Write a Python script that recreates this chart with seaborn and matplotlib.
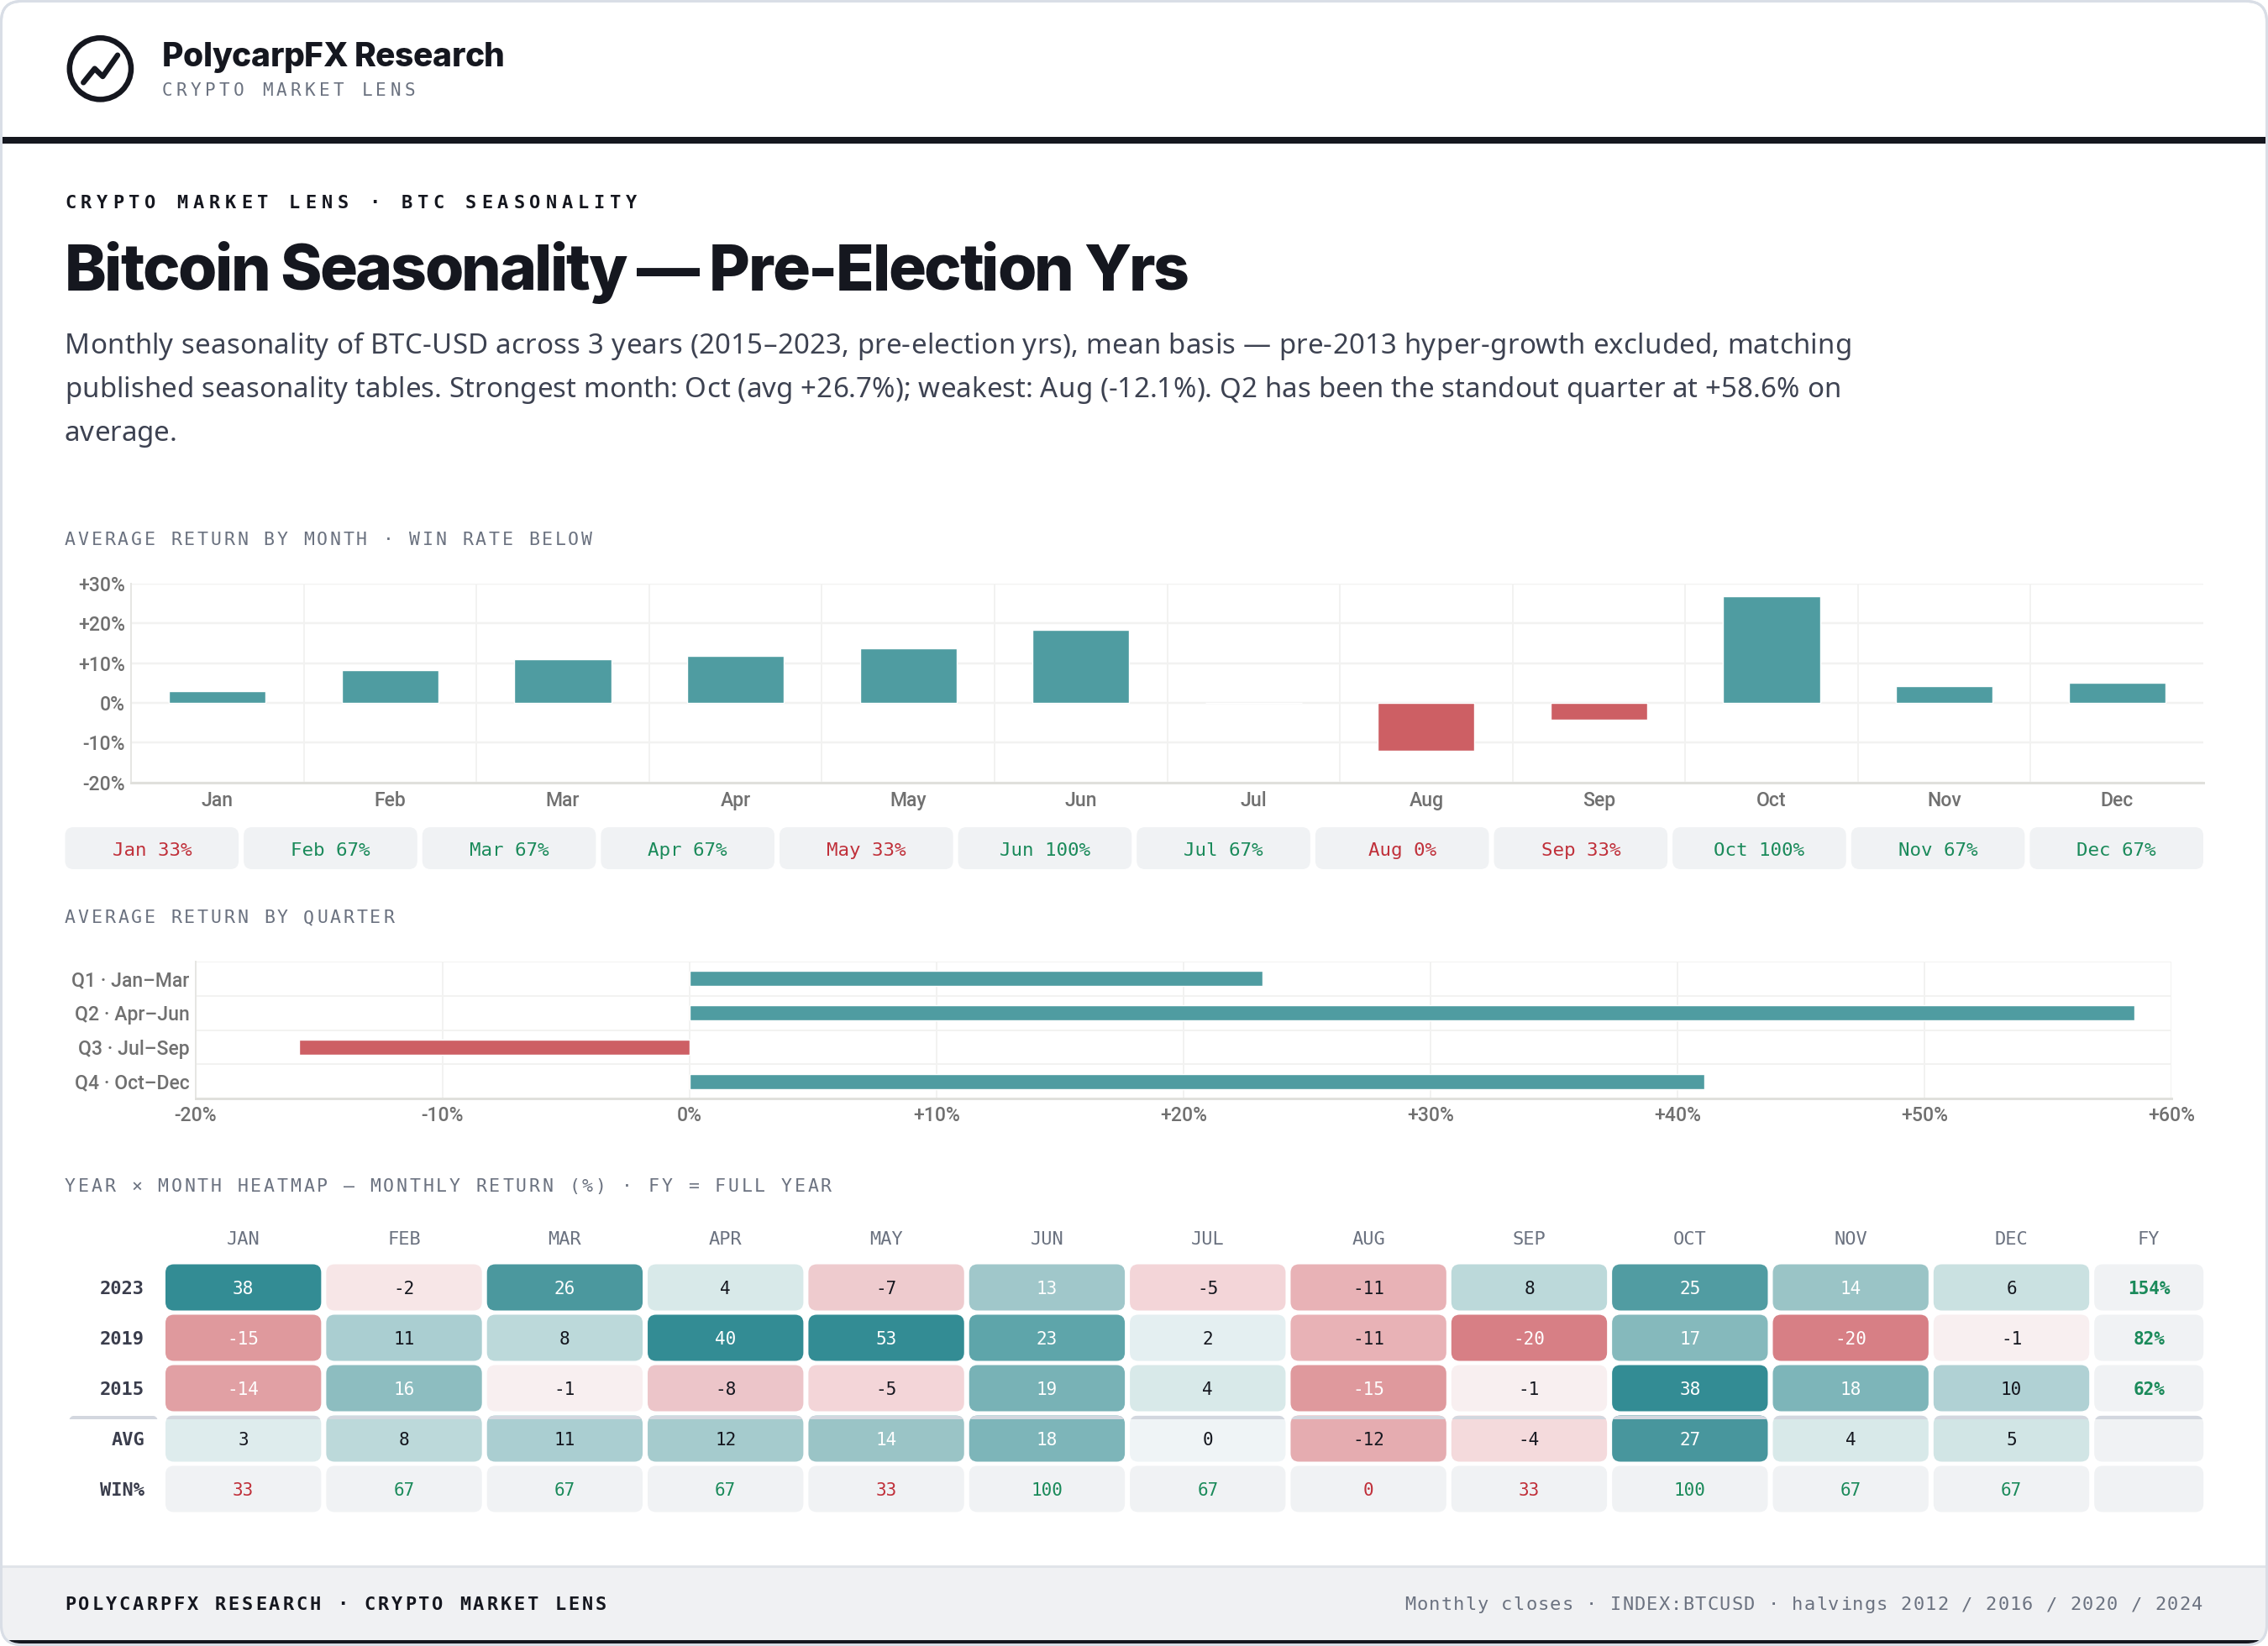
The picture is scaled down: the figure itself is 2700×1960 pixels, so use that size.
import numpy as np
import pandas as pd
import matplotlib
matplotlib.use("Agg")
import matplotlib.pyplot as plt
import matplotlib.text as mtext
from matplotlib.colors import LinearSegmentedColormap
from matplotlib.font_manager import FontProperties
from matplotlib.patches import FancyBboxPatch, Rectangle, Circle
from matplotlib.transforms import IdentityTransform, Bbox
import seaborn as sns

# ---------- data ----------
months = ["Jan", "Feb", "Mar", "Apr", "May", "Jun", "Jul", "Aug", "Sep", "Oct", "Nov", "Dec"]
avg_return = [2.9, 8.2, 11.0, 11.9, 13.7, 18.4, 0.0, -12.1, -4.3, 26.9, 4.2, 5.0]
win_rate = [33, 67, 67, 67, 33, 100, 67, 0, 33, 100, 67, 67]
quarters = ["Q1 · Jan–Mar", "Q2 · Apr–Jun", "Q3 · Jul–Sep", "Q4 · Oct–Dec"]
quarter_return = [23.2, 58.5, -15.8, 41.1]
row_2023 = [38, -2, 26, 4, -7, 13, -5, -11, 8, 25, 14, 6]
row_2019 = [-15, 11, 8, 40, 53, 23, 2, -11, -20, 17, -20, -1]
row_2015 = [-14, 16, -1, -8, -5, 19, 4, -15, -1, 38, 18, 10]
row_avg = [3, 8, 11, 12, 14, 18, 0, -12, -4, 27, 4, 5]
fy_labels = ["154%", "82%", "62%"]
row_labels = ["2023", "2019", "2015", "AVG", "WIN%"]
y_ticks_month = [-20, -10, 0, 10, 20, 30]
x_ticks_quarter = [-20, -10, 0, 10, 20, 30, 40, 50, 60]
body_lines = [
    "Monthly seasonality of BTC-USD across 3 years (2015–2023, pre-election yrs), mean basis — pre-2013 hyper-growth excluded, matching",
    "published seasonality tables. Strongest month: Oct (avg +26.7%); weakest: Aug (-12.1%). Q2 has been the standout quarter at +58.6% on",
    "average.",
]

# ---------- style ----------
W, H = 2700, 1960
PX = 0.72
INK = "#15171f"
GREY = "#6b7280"
TEAL = "#4f9ca1"
RED = "#cd5f64"
POS = "#1a8a5a"
NEG = "#c0303a"
PILL = "#f0f2f4"
GRID = "#f2f2f1"
MONO = "DejaVu Sans Mono"
SANS = "Noto Sans"
TICKFONT = "Roboto"
TICK = "#707070"

sns.set_theme(style="white")
plt.rcParams["font.family"] = [TICKFONT, "DejaVu Sans"]


class TrackedText(mtext.Text):
    """One text object drawn with CSS-like letter spacing, fitted to a pixel width."""

    def __init__(self, x, y, s, width=None, **kw):
        super().__init__(x, y, s, **kw)
        self._target = width

    def _measure(self, renderer):
        fp = self.get_fontproperties()
        bar = renderer.get_text_width_height_descent("|", fp, False)[0]
        s = self.get_text()
        adv = [renderer.get_text_width_height_descent(s[:i] + "|", fp, False)[0] - bar for i in range(len(s) + 1)]
        track = (self._target - adv[-1]) / (len(s) - 1) if self._target else 0
        return adv, track

    def _origin(self, adv, track):
        s = self.get_text()
        total = adv[-1] + track * (len(s) - 1)
        x, y = self.get_transform().transform(self.get_position())
        ha = self.get_ha()
        x -= {"left": 0, "center": total / 2, "right": total}[ha]
        return x, y, total

    def draw(self, renderer):
        if not self.get_visible():
            return
        adv, track = self._measure(renderer)
        x, y, _ = self._origin(adv, track)
        for i, ch in enumerate(self.get_text()):
            if ch == " ":
                continue
            t = mtext.Text(x + adv[i] + track * i, y, ch, fontproperties=self.get_fontproperties(),
                           color=self.get_color(), ha="left", va="baseline",
                           transform=IdentityTransform())
            t.set_figure(self.get_figure())
            t.draw(renderer)

    def get_window_extent(self, renderer=None, dpi=None):
        if renderer is None:
            renderer = self.get_figure().canvas.get_renderer()
        adv, track = self._measure(renderer)
        x, y, total = self._origin(adv, track)
        _, h, d = renderer.get_text_width_height_descent(self.get_text(), self.get_fontproperties(), False)
        return Bbox([[x, y - d], [x + total, y - d + h]])


fig = plt.figure(figsize=(W / 100, H / 100), dpi=100, facecolor="white")


def px_axes(x0, y0, x1, y1, **kw):
    return fig.add_axes([x0 / W, 1 - y1 / H, (x1 - x0) / W, (y1 - y0) / H], facecolor="none", **kw)


bg = fig.add_axes([0, 0, 1, 1], zorder=0)
bg.set_xlim(0, W)
bg.set_ylim(H, 0)
bg.axis("off")


def label(x, y, s, px, family=MONO, weight="normal", color=GREY, width=None, ha="left", ax=bg):
    fp = FontProperties(family=[family, "DejaVu Sans"], size=px * PX, weight=weight)
    t = TrackedText(x, y, s, width=width, fontproperties=fp, color=color, ha=ha, va="baseline",
                    transform=ax.transData, clip_on=False)
    ax.add_artist(t)
    return t


# ---------- card, header, footer ----------
card = FancyBboxPatch((1.5, 1.5), W - 3, H - 3, boxstyle="round,pad=0,rounding_size=24",
                      fc="white", ec="#d9dee6", lw=3 * PX, zorder=0)
bg.add_patch(card)
for y0, y1, c in [(1866, H, "#f0f1f3"), (1864, 1867, "#e1e4e9"), (1952.5, H, INK), (163.5, 171, INK)]:
    r = Rectangle((0, y0), W, y1 - y0, fc=c, ec="none", zorder=1)
    bg.add_patch(r)
    r.set_clip_path(card)
bg.add_patch(FancyBboxPatch((1.5, 1.5), W - 3, H - 3, boxstyle="round,pad=0,rounding_size=24",
                            fc="none", ec="#d9dee6", lw=3 * PX, zorder=1.5))

bg.add_patch(Circle((119.4, 81.8), 36.6, fc="none", ec=INK, lw=6.5 * PX, zorder=2))
bg.plot([99.3, 112.7, 122.3, 140], [98.3, 81.7, 91, 65.7], color=INK, lw=6.5 * PX,
        solid_capstyle="round", solid_joinstyle="round", zorder=2)

label(193, 79, "PolycarpFX Research", 39, family="Inter", weight=800, color=INK, width=408)
label(193, 113.5, "CRYPTO MARKET LENS", 21, color=GREY, width=301)
label(77, 248, "CRYPTO MARKET LENS · BTC SEASONALITY", 22, weight="bold", color=INK, width=681)
label(77, 346, "Bitcoin Seasonality — Pre-Election Yrs", 75, family="Inter", weight=800, color=INK, width=1339)
for y, line, w in zip([421, 473, 525], body_lines, [2127, 2114, 133]):
    label(77, y, line, 33, family=SANS, color="#3d4251", width=w)

label(77, 649, "AVERAGE RETURN BY MONTH · WIN RATE BELOW", 21.5, width=628)
label(77, 1099, "AVERAGE RETURN BY QUARTER", 21.5, width=392)
label(77, 1419, "YEAR × MONTH HEATMAP — MONTHLY RETURN (%) · FY = FULL YEAR", 21.5, width=913)
label(77, 1917, "POLYCARPFX RESEARCH · CRYPTO MARKET LENS", 22, weight="bold", color=INK, width=645)
label(2622, 1917, "Monthly closes · INDEX:BTCUSD · halvings 2012 / 2016 / 2020 / 2024", 22, width=950, ha="right")

# ---------- monthly bars ----------
ax1 = px_axes(156, 695, 2623, 931.5)
df_m = pd.DataFrame({"month": months, "ret": avg_return})
df_m["sign"] = np.where(df_m["ret"] >= 0, "up", "down")
sns.barplot(data=df_m, x="month", y="ret", hue="sign", hue_order=["up", "down"],
            palette={"up": TEAL, "down": RED}, dodge=False, width=0.56, legend=False,
            saturation=1, ax=ax1, zorder=3)
ax1.set_xlim(-0.5, 11.5)
ax1.set_ylim(-20, 30)
ax1.set_xlabel("")
ax1.set_ylabel("")
ax1.set_yticks(y_ticks_month)
ax1.set_yticklabels([("+" if v > 0 else "") + f"{v}%" for v in y_ticks_month])
ax1.set_xticks(range(12))
ax1.set_xticks(np.arange(0.5, 11), minor=True)
ax1.tick_params(axis="both", which="both", length=0, labelsize=23 * PX, labelcolor=TICK)
ax1.tick_params(axis="x", pad=10 * PX)
ax1.tick_params(axis="y", pad=7 * PX)
ax1.grid(True, axis="y", which="major", color=GRID, lw=2.5 * PX, zorder=0)
ax1.grid(True, axis="x", which="minor", color=GRID, lw=2 * PX, zorder=0)
ax1.set_axisbelow(True)
for s in ["top", "right"]:
    ax1.spines[s].set_visible(False)
ax1.spines["left"].set(color="#e6e6e3", lw=2 * PX)
ax1.spines["bottom"].set(color="#e0e0dc", lw=3 * PX)

# ---------- win-rate pills ----------
pill_w = (2623 - 77.5 - 66) / 12
for i, (m, v) in enumerate(zip(months, win_rate)):
    x0 = 77.5 + i * (pill_w + 6)
    bg.add_patch(FancyBboxPatch((x0, 985), pill_w, 50, boxstyle="round,pad=0,rounding_size=10",
                                fc=PILL, ec="none", zorder=2))
    bg.text(x0 + pill_w / 2, 1019, f"{m} {v}%", ha="center", va="baseline", fontsize=22.5 * PX,
            family=[MONO, "DejaVu Sans"], color=NEG if v < 50 else POS, zorder=3)

# ---------- quarterly bars ----------
ax2 = px_axes(232.5, 1145, 2585, 1308)
df_q = pd.DataFrame({"quarter": quarters, "ret": quarter_return})
df_q["sign"] = np.where(df_q["ret"] >= 0, "up", "down")
sns.barplot(data=df_q, y="quarter", x="ret", hue="sign", hue_order=["up", "down"], orient="y",
            palette={"up": TEAL, "down": RED}, dodge=False, width=0.44, legend=False,
            saturation=1, ax=ax2, zorder=3)
ax2.set_xlim(-20, 60)
ax2.set_ylim(3.5, -0.5)
ax2.set_xlabel("")
ax2.set_ylabel("")
ax2.set_xticks(x_ticks_quarter)
ax2.set_xticklabels([("+" if v > 0 else "") + f"{v}%" for v in x_ticks_quarter])
ax2.set_yticks(range(4))
ax2.set_yticks(np.arange(-0.5, 3.5), minor=True)
ax2.tick_params(axis="both", which="both", length=0, labelsize=23 * PX, labelcolor=TICK)
ax2.tick_params(axis="x", pad=9 * PX)
ax2.tick_params(axis="y", pad=7 * PX)
ax2.grid(True, axis="x", which="major", color=GRID, lw=2 * PX, zorder=0)
ax2.grid(True, axis="y", which="minor", color=GRID, lw=2 * PX, zorder=0)
ax2.set_axisbelow(True)
for s in ["top", "right"]:
    ax2.spines[s].set_visible(False)
ax2.spines["left"].set(color="#e6e6e3", lw=2 * PX)
ax2.spines["bottom"].set(color="#e0e0dc", lw=3 * PX)
for ax in (ax1, ax2):
    for lb in ax.get_xticklabels() + ax.get_yticklabels():
        lb.set_fontweight(500)

# ---------- heatmap ----------
CW, CH = 191.35, 60.0
FY_W = 136 / CW
ax3 = px_axes(194, 1503, 194 + CW * (12 + FY_W), 1503 + 5 * CH)
heat = pd.DataFrame([row_2023, row_2019, row_2015, row_avg, [np.nan] * 12],
                    index=row_labels, columns=months, dtype=float)
stops = [(-20, "#d77f85"), (-15, "#df9a9e"), (-11, "#e8b3b7"), (-8, "#ecc6ca"), (-5, "#f3d5d8"),
         (-2, "#f7e6e7"), (-1, "#f9eff0"), (0, "#eef5f7"), (2, "#e4eff1"), (4, "#d8e9e9"),
         (8, "#bcd9da"), (11, "#aaced1"), (14, "#9bc4c6"), (18, "#7eb5b9"), (23, "#5ea5aa"),
         (26, "#4b989e"), (34, "#338c94")]
VMIN, VMAX = -20, 34
cmap = LinearSegmentedColormap.from_list("ret", [((v - VMIN) / (VMAX - VMIN), c) for v, c in stops])
annot = heat.map(lambda v: "" if np.isnan(v) else f"{v:.0f}")
sns.heatmap(heat, cmap=cmap, vmin=VMIN, vmax=VMAX, annot=annot, fmt="", cbar=False, ax=ax3,
            annot_kws={"fontsize": 21 * PX, "family": [MONO, "DejaVu Sans"]})
mesh = ax3.collections[0]
mesh.set_visible(False)
ax3.set_xlim(0, 12 + FY_W)
ax3.set_ylim(5, 0)
ax3.set_xlabel("")
ax3.set_ylabel("")

sx, sy = 3 / CW, 2.5 / CH
aspect = CW / CH


def cell(x, y, w, h, fc, rad=10):
    p = FancyBboxPatch((x + sx, y + sy), w - 2 * sx, h - 2 * sy,
                       boxstyle=f"round,pad=0,rounding_size={rad / CW}", mutation_aspect=aspect,
                       fc=fc, ec="none", zorder=1, clip_on=False)
    ax3.add_patch(p)
    return p


def band(p):
    b = Rectangle((-2, 3 + sy), 20, 4 / CH, fc="#d3d7df", ec="none", zorder=1.5)
    ax3.add_patch(b)
    b.set_clip_path(p)
    b.set_clip_box(None)


norm = mesh.norm
for r in range(4):
    for c in range(12):
        v = heat.iat[r, c]
        p = cell(c, r, 1, 1, cmap(norm(v)))
        if r == 3:
            band(p)
for t in ax3.texts:
    v = float(t.get_text())
    t.set_color("white" if v >= 13 or v <= -14 else INK)
    t.set_zorder(3)
    t.set_va("center_baseline")
for c, v in enumerate(win_rate):
    cell(c, 4, 1, 1, PILL)
    ax3.text(c + 0.5, 4.5, str(v), ha="center", va="center_baseline", fontsize=21 * PX,
             family=[MONO, "DejaVu Sans"], color=NEG if v < 50 else POS, zorder=3)
for r in range(5):
    p = cell(12, r, FY_W, 1, PILL)
    if r == 3:
        band(p)
    if r < 3:
        ax3.text(12 + FY_W / 2, r + 0.5, fy_labels[r], ha="center", va="center_baseline", fontsize=21 * PX,
                 family=[MONO, "DejaVu Sans"], weight="bold", color=POS, zorder=3)
band(cell(-115 / CW, 3, 112 / CW, 1, "none", rad=8))

ax3.set_xticks(list(np.arange(12) + 0.5) + [12 + FY_W / 2])
ax3.set_xticklabels([m.upper() for m in months] + ["FY"], rotation=0)
ax3.xaxis.tick_top()
ax3.set_yticks(np.arange(5) + 0.5)
ax3.set_yticklabels(row_labels, rotation=0, weight="bold", color="#3a3d4c", va="center_baseline")
ax3.tick_params(axis="both", length=0, labelsize=22 * PX)
ax3.tick_params(axis="x", labelcolor=GREY, pad=17 * PX)
ax3.tick_params(axis="y", pad=22 * PX)
for lb in ax3.get_xticklabels() + ax3.get_yticklabels():
    lb.set_family([MONO, "DejaVu Sans"])
for s in ax3.spines.values():
    s.set_visible(False)

fig.savefig("out.png", dpi=100, facecolor="white")
